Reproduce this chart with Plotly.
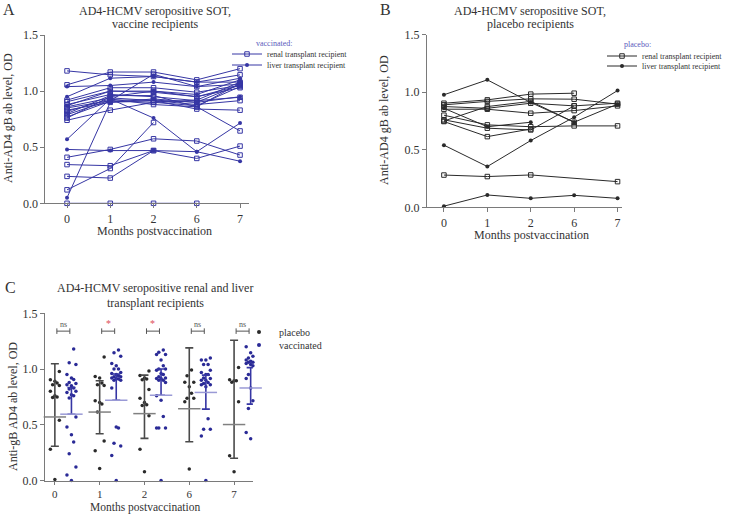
import plotly.graph_objects as go

# ---------------- data ----------------
MONTHS = ['0', '1', '2', '6', '7']

# Panel A: vaccine recipients (one list per patient, months 0,1,2,6,7)
VAC_RENAL = [
    [1.18, 1.145, 1.13, 1.08, 1.145],
    [1.056, 1.17, 1.17, 1.10, 1.20],
    [0.92, 1.03, 1.03, 0.99, 1.05],
    [0.905, 1.00, 0.99, 0.95, 1.03],
    [0.88, 0.97, 0.95, 0.915, 0.945],
    [0.86, 0.94, 0.915, 0.88, 0.915],
    [0.85, 0.915, 1.15, 1.04, 1.06],
    [0.83, 0.90, 0.915, 0.84, 0.83],
    [0.82, 0.93, 0.88, 0.86, 1.07],
    [0.80, 0.96, 0.96, 0.86, 0.645],
    [0.79, 0.92, 0.92, 0.90, 1.06],
    [0.77, 0.91, 0.90, 0.87, 1.04],
    [0.76, 0.95, 1.00, 0.95, 1.05],
    [0.74, 0.83, 0.90, 0.92, 1.08],
    [0.41, 0.48, 0.575, 0.555, 0.43],
    [0.345, 0.335, 0.47, 0.40, 0.51],
    [0.24, 0.225, 0.47, None, None],
    [0.12, 0.31, 0.72, None, None],
    [0.0, 0.0, 0.0, 0.0, None],
]
VAC_LIVER = [
    [1.04, 1.05, 1.08, 1.04, 1.115],
    [0.95, 1.115, 1.13, 1.08, 1.08],
    [0.57, 0.93, 0.76, 0.46, 0.715],
    [0.48, 0.47, 0.47, 0.46, 0.375],
    [0.05, 0.90, 0.93, 0.90, 0.95],
    [0.87, 1.00, 1.00, 0.97, 1.10],
]

# Panel B: placebo recipients
PLA_RENAL = [
    [0.904, 0.933, 0.983, 0.991, None],
    [0.89, 0.92, 0.942, 0.939, 0.896],
    [0.875, 0.86, 0.904, 0.881, 0.904],
    [0.852, 0.852, 0.817, 0.84, 0.881],
    [0.80, 0.716, 0.70, 0.707, 0.707],
    [0.76, 0.687, 0.672, 0.881, None],
    [0.745, 0.614, 0.68, None, None],
    [0.75, 0.875, 0.92, 0.739, None],
    [0.28, 0.267, 0.281, None, 0.223],
]
PLA_LIVER = [
    [0.977, 1.107, 0.91, 0.739, 0.896],
    [0.54, 0.354, 0.58, 0.783, 1.014],
    [0.86, 0.70, 0.739, None, None],
    [0.01, 0.107, 0.078, 0.104, 0.078],
]

# Panel C: summary bars
PLA_MEAN = [0.57, 0.614, 0.60, 0.644, 0.502]
PLA_LO = [0.307, 0.42, 0.378, 0.348, 0.20]
PLA_HI = [1.048, 0.895, 0.945, 1.19, 1.258]
VAC_MEAN = [0.595, 0.72, 0.765, 0.79, 0.83]
VAC_LO = [0.595, 0.72, 0.765, 0.64, 0.685]
VAC_HI = [0.835, 0.955, 1.0, 0.945, 1.013]
SIG = ['ns', '*', '*', 'ns', 'ns']

# ---------------- style ----------------
W, H = 732, 515
FONT = 'Liberation Serif'
BLUE = '#3636a4'
NAVY = '#2a2a96'
LBLUE = '#9a9ad6'
DARK = '#2a2a2a'
GREYBAR = '#4a4a4a'
AXC = '#7a7a7a'
TXT = '#333333'
VAC_OFF = 0.37
JIT = [0.0, -0.1, 0.1, -0.05, 0.05]


def fx(px):
    return px / W


def fy(py):
    return 1 - py / H


fig = go.Figure()
idx = list(range(len(MONTHS)))


def pts(vals):
    xs = [i for i, v in zip(idx, vals) if v is not None]
    ys = [v for v in vals if v is not None]
    return xs, ys


def mk(sym, col):
    if sym == 'square-open':
        return dict(symbol=sym, size=4.5, color=col, line=dict(color=col, width=1))
    return dict(symbol=sym, size=4, color=col, line=dict(width=0))


# Panel A lines
for grp, sym in ((VAC_RENAL, 'square-open'), (VAC_LIVER, 'circle')):
    for p in grp:
        xs, ys = pts(p)
        fig.add_trace(go.Scatter(x=xs, y=ys, mode='lines+markers', xaxis='x', yaxis='y',
                                 line=dict(color=BLUE, width=1), marker=mk(sym, BLUE),
                                 showlegend=False, cliponaxis=False, hoverinfo='skip'))

# Panel B lines
for grp, sym in ((PLA_RENAL, 'square-open'), (PLA_LIVER, 'circle')):
    for p in grp:
        xs, ys = pts(p)
        fig.add_trace(go.Scatter(x=xs, y=ys, mode='lines+markers', xaxis='x2', yaxis='y2',
                                 line=dict(color=DARK, width=1), marker=mk(sym, DARK),
                                 showlegend=False, cliponaxis=False, hoverinfo='skip'))


# Panel C scatter points
def column(groups, m):
    vals = [p[m] for g in groups for p in g if p[m] is not None]
    return sorted(vals)


for m in idx:
    pv = column([PLA_RENAL, PLA_LIVER], m)
    vv = column([VAC_RENAL, VAC_LIVER], m)
    fig.add_trace(go.Scatter(x=[m + JIT[k % 5] for k in range(len(pv))], y=pv, mode='markers',
                             xaxis='x3', yaxis='y3', marker=dict(size=3.5, color=DARK),
                             showlegend=False, cliponaxis=False, hoverinfo='skip'))
    fig.add_trace(go.Scatter(x=[m + VAC_OFF + JIT[k % 5] for k in range(len(vv))], y=vv, mode='markers',
                             xaxis='x3', yaxis='y3', marker=dict(size=3.5, color=NAVY),
                             showlegend=False, cliponaxis=False, hoverinfo='skip'))

# Panel C error bars + mean lines
fig.add_trace(go.Scatter(x=idx, y=PLA_MEAN, mode='markers', xaxis='x3', yaxis='y3',
                         marker=dict(symbol='line-ew', size=16, line=dict(color='#808080', width=1.5)),
                         error_y=dict(type='data', symmetric=False,
                                      array=[h - mn for h, mn in zip(PLA_HI, PLA_MEAN)],
                                      arrayminus=[mn - lo for lo, mn in zip(PLA_LO, PLA_MEAN)],
                                      color=GREYBAR, thickness=1.6, width=4),
                         showlegend=False, cliponaxis=False, hoverinfo='skip'))
fig.add_trace(go.Scatter(x=[m + VAC_OFF for m in idx], y=VAC_MEAN, mode='markers', xaxis='x3', yaxis='y3',
                         marker=dict(symbol='line-ew', size=16, line=dict(color=LBLUE, width=1.5)),
                         error_y=dict(type='data', symmetric=False,
                                      array=[h - mn for h, mn in zip(VAC_HI, VAC_MEAN)],
                                      arrayminus=[mn - lo for lo, mn in zip(VAC_LO, VAC_MEAN)],
                                      color=BLUE, thickness=1.6, width=4),
                         showlegend=False, cliponaxis=False, hoverinfo='skip'))

# legend entries
legs = [
    ('renal transplant recipient', 'square-open', BLUE, 'lines+markers', 'legend'),
    ('liver transplant recipient', 'circle', BLUE, 'lines+markers', 'legend2'),
    ('renal transplant recipient', 'square-open', DARK, 'lines+markers', 'legend3'),
    ('liver transplant recipient', 'circle', DARK, 'lines+markers', 'legend4'),
    ('placebo', 'circle', DARK, 'markers', 'legend5'),
    ('vaccinated', 'circle', NAVY, 'markers', 'legend6'),
]
for name, sym, col, mode, lg in legs:
    fig.add_trace(go.Scatter(x=[None], y=[None], mode=mode, name=name, legend=lg,
                             xaxis='x3', yaxis='y3',
                             line=dict(color=col, width=1), marker=mk(sym, col)))

# significance brackets
BY = 1.34
shapes = []
annots = []
for m, s in zip(idx, SIG):
    x0, x1 = m + 0.045, m + 0.335
    shapes.append(dict(type='line', xref='x3', yref='y3', x0=x0, x1=x1, y0=BY, y1=BY,
                       line=dict(color='#555', width=1)))
    for xx in (x0, x1):
        shapes.append(dict(type='line', xref='x3', yref='y3', x0=xx, x1=xx, y0=BY - 0.025, y1=BY + 0.025,
                           line=dict(color='#555', width=1)))
    annots.append(dict(xref='x3', yref='y3', x=(x0 + x1) / 2, y=BY + 0.005, text=s, showarrow=False,
                       yanchor='bottom', font=dict(family=FONT, size=8 if s == 'ns' else 10,
                                                   color='#555' if s == 'ns' else '#e0505a')))


def ann(text, px, py, size=12, color=TXT, xanchor='center', yanchor='middle', angle=0):
    annots.append(dict(xref='paper', yref='paper', x=fx(px), y=fy(py), text=text, showarrow=False,
                       xanchor=xanchor, yanchor=yanchor, textangle=angle, borderpad=0,
                       font=dict(family=FONT, size=size, color=color)))


ann('A', 9, 9, size=16)
ann('B', 385, 9, size=16)
ann('C', 10, 287, size=16)
ann('AD4-HCMV seropositive SOT,', 155, 11)
ann('vaccine recipients', 155, 24)
ann('AD4-HCMV seropositive SOT,', 530, 11)
ann('placebo recipients', 530, 24)
ann('AD4-HCMV seropositive renal and liver', 155, 288)
ann('transplant recipients', 155, 303)
ann('Anti-AD4 gB ab level, OD', 8, 118, angle=-90)
ann('Anti-AD4 gB ab level, OD', 384, 120, angle=-90)
ann('Anti-gB AD4 ab level, OD', 13, 407, angle=-90)
ann('Months postvaccination', 154, 231)
ann('Months postvaccination', 531, 235)
ann('Months postvaccination', 145, 515, size=11.5, yanchor='bottom')
ann('vaccinated:', 255, 44, size=8, color='#5a5abc', xanchor='left')
ann('placebo:', 623, 45, size=8, color='#5a5abc', xanchor='left')


def xax(d0, d1, r0, r1, anchor, fs=12, tl=4):
    return dict(domain=[fx(d0), fx(d1)], range=[r0, r1], tickvals=idx, ticktext=MONTHS,
                showline=True, linecolor=AXC, linewidth=1, ticks='outside', ticklen=tl, tickcolor=AXC,
                showgrid=False, zeroline=False, anchor=anchor, automargin=False,
                tickfont=dict(family=FONT, size=fs, color=TXT))


def yax(p0, p1, anchor):
    return dict(domain=[fy(p0), fy(p1)], range=[0, 1.5], tickvals=[0, 0.5, 1.0, 1.5], tickformat='.1f',
                showline=True, linecolor=AXC, linewidth=1, ticks='outside', ticklen=4, tickcolor=AXC,
                showgrid=False, zeroline=False, anchor=anchor, automargin=False,
                tickfont=dict(family=FONT, size=12, color=TXT))


def leg(px, py, size=8):
    return dict(x=fx(px), y=fy(py), xanchor='left', yanchor='middle', bgcolor='rgba(0,0,0,0)',
                borderwidth=0, font=dict(family=FONT, size=size, color=TXT), itemclick=False)


fig.update_layout(
    width=W, height=H, margin=dict(l=0, r=0, t=0, b=0, autoexpand=False),
    paper_bgcolor='white', plot_bgcolor='white',
    xaxis=xax(45.4, 248.7, -0.5, 4.2, 'y'),
    yaxis=yax(203.3, 35, 'x'),
    xaxis2=xax(427, 621.9, -0.39, 4.1, 'y2'),
    yaxis2=yax(207.3, 34.6, 'x2'),
    xaxis3=xax(45, 252.9, -0.22, 4.42, 'y3', fs=11, tl=3),
    yaxis3=yax(480.5, 313.3, 'x3'),
    legend=leg(227, 54), legend2=leg(227, 65),
    legend3=leg(602, 56), legend4=leg(602, 66),
    legend5=leg(239, 332, 10), legend6=leg(239, 345, 10),
    shapes=shapes, annotations=annots,
)

fig.write_html('out.html', config={'displayModeBar': False},
               post_script="document.body.style.margin='0';document.body.style.overflow='hidden';")
